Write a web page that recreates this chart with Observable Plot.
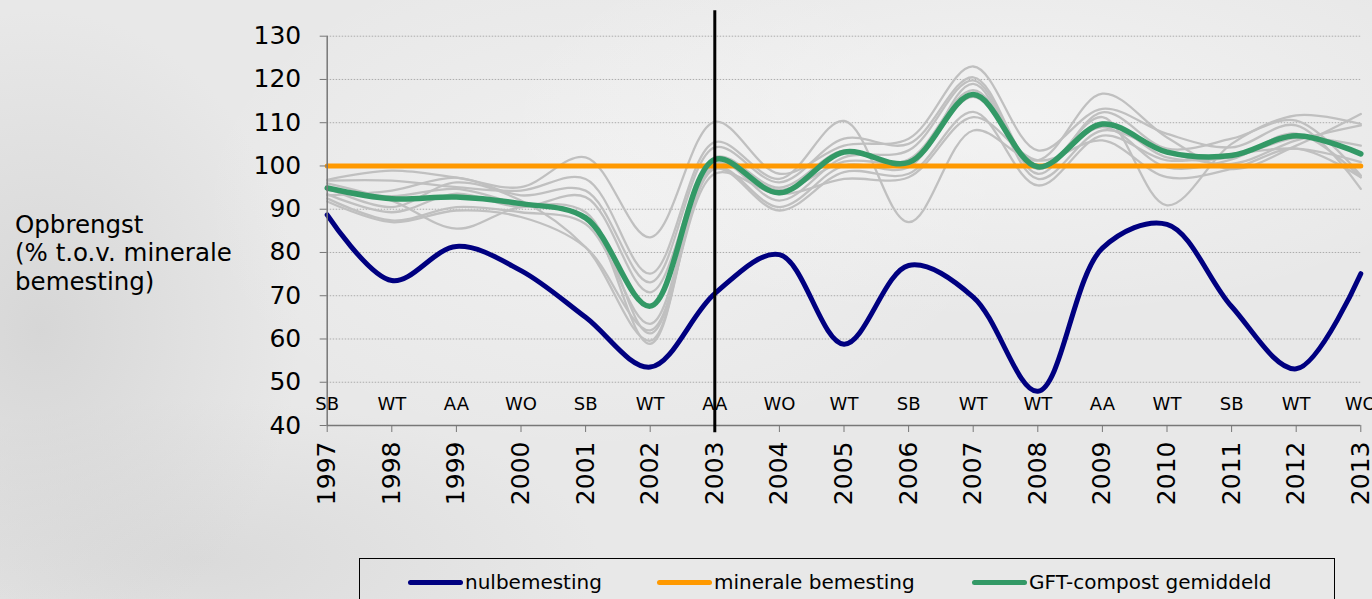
<!DOCTYPE html>
<html>
<head>
<meta charset="utf-8">
<script src="https://cdn.jsdelivr.net/npm/d3@7"></script>
<script src="https://cdn.jsdelivr.net/npm/@observablehq/plot@0.6"></script>
<style>
html, body { margin: 0; padding: 0; }
body {
  width: 1372px; height: 599px; overflow: hidden; position: relative;
  font-family: "DejaVu Sans", Verdana, sans-serif; color: #000;
  background:
    radial-gradient(ellipse 260px 320px at 40px 330px, rgba(200,200,200,0.55), rgba(200,200,200,0) 100%),
    radial-gradient(ellipse 400px 160px at 200px 560px, rgba(205,205,205,0.5), rgba(205,205,205,0) 100%),
    radial-gradient(ellipse 500px 200px at 1000px 120px, rgba(250,250,250,0.6), rgba(250,250,250,0) 100%),
    radial-gradient(ellipse 400px 250px at 600px 200px, rgba(246,246,246,0.6), rgba(246,246,246,0) 100%),
    #e8e8e8;
}
#chart { position: absolute; left: 0; top: 0; }
#ytitle { position: absolute; left: 15px; top: 211px; font-size: 24.5px; line-height: 28.3px; white-space: nowrap; }
#legend { position: absolute; left: 359px; top: 558px; width: 976px; height: 60px; border: 1px solid #000; box-sizing: border-box; }
.item { position: absolute; top: 10px; height: 26px; display: flex; align-items: center; font-size: 20px; white-space: nowrap; }
.sw { display: inline-block; width: 55px; height: 5px; border-radius: 3px; margin-right: 2px; }
</style>
</head>
<body>
<div id="chart"></div>
<div id="ytitle">Opbrengst<br>(% t.o.v. minerale<br>bemesting)</div>
<div id="legend"></div>
<script>
// ---- data ----
const years = [1997, 1998, 1999, 2000, 2001, 2002, 2003, 2004, 2005, 2006, 2007, 2008, 2009, 2010, 2011, 2012, 2013];
const crops = ["SB", "WT", "AA", "WO", "SB", "WT", "AA", "WO", "WT", "SB", "WT", "WT", "AA", "WT", "SB", "WT", "WO"];
const yTicks = [40, 50, 60, 70, 80, 90, 100, 110, 120, 130];

const nulbemesting = [88.7, 73.5, 81.4, 75.8, 65.0, 53.5, 70.5, 79.5, 58.8, 77.0, 69.7, 47.9, 81.0, 86.5, 67.5, 53.1, 75.1];
const mineraleBemesting = [100, 100, 100, 100, 100, 100, 100, 100, 100, 100, 100, 100, 100, 100, 100, 100, 100];
const gftGemiddeld = [94.9, 92.4, 92.8, 91.3, 88.0, 67.6, 101.5, 93.8, 103.2, 100.8, 116.5, 99.8, 109.7, 103.2, 102.4, 107.0, 102.8];

// individual GFT-compost plots (grey)
const gft1 = [96.8, 98.9, 97.3, 95.1, 102.0, 83.5, 110.2, 98.2, 104.7, 106.3, 123.0, 103.6, 113.2, 107.4, 104.3, 109.4, 94.7];
const gft2 = [96.6, 96.6, 95.1, 94.3, 97.0, 75.1, 105.5, 97.0, 110.4, 87.0, 108.2, 101.3, 116.7, 106.6, 99.3, 104.7, 112.0];
const gft3 = [93.2, 94.3, 97.3, 93.2, 94.3, 73.1, 104.3, 96.2, 106.3, 105.1, 120.5, 99.3, 111.3, 90.9, 105.1, 111.7, 109.7];
const gft4 = [93.5, 89.3, 93.6, 90.5, 92.8, 70.8, 101.3, 92.0, 102.0, 103.6, 119.8, 98.2, 112.4, 104.0, 106.3, 110.5, 97.8];
const gft5 = [92.5, 87.4, 90.5, 89.3, 86.6, 63.5, 99.7, 90.5, 100.1, 99.7, 119.0, 97.0, 108.2, 103.2, 100.5, 105.9, 109.4];
const gft6 = [91.8, 87.0, 89.7, 88.2, 81.2, 62.0, 99.3, 89.7, 98.6, 98.2, 112.5, 95.5, 107.0, 101.3, 102.8, 104.0, 100.9];
const gft7 = [96.0, 92.0, 85.5, 90.5, 89.3, 61.3, 98.2, 93.5, 97.0, 97.4, 111.3, 101.3, 105.9, 97.4, 99.3, 104.0, 97.4];
const gft8 = [95.0, 90.5, 96.2, 92.0, 81.2, 59.6, 102.0, 95.0, 103.6, 100.5, 116.0, 99.7, 109.0, 99.7, 101.5, 107.5, 97.4];
const gft9 = [94.5, 93.0, 94.7, 91.0, 88.0, 58.9, 100.5, 94.5, 101.0, 101.5, 117.5, 100.2, 110.0, 102.0, 102.0, 106.5, 104.7];
const greySeries = [gft1, gft2, gft3, gft4, gft5, gft6, gft7, gft8, gft9];

const seriesNames = ["nulbemesting", "minerale bemesting", "GFT-compost gemiddeld"];
const seriesColors = ["#000080", "#ff9900", "#339966"];

// ---- build tables ----
const toRows = (vals) => years.map((yr, i) => ({year: yr, value: vals[i]}));
const greyRows = greySeries.flatMap((s, k) => years.map((yr, i) => ({series: k, year: yr, value: s[i]})));
const cropRows = years.map((yr, i) => ({year: yr, crop: crops[i]}));

const lineOpts = {x: "year", y: "value", curve: "catmull-rom", strokeLinecap: "round", strokeLinejoin: "round"};

const chart = Plot.plot({
  width: 1372,
  height: 545,
  marginLeft: 326.7,
  marginRight: 11.7,
  marginTop: 35.7,
  marginBottom: 120,
  style: {background: "transparent", fontFamily: "'DejaVu Sans', Verdana, sans-serif", fontSize: "25px", color: "#000", overflow: "visible"},
  x: {domain: [1997, 2013]},
  y: {domain: [40, 130]},
  marks: [
    Plot.ruleY(yTicks.filter(v => v > 40), {stroke: "#ababab", strokeWidth: 1, strokeDasharray: "1.5,1.5"}),
    Plot.lineY(greyRows, {...lineOpts, z: "series", stroke: "#c0c0c0", strokeWidth: 2.3}),
    Plot.lineY(toRows(mineraleBemesting), {...lineOpts, stroke: seriesColors[1], strokeWidth: 5}),
    Plot.lineY(toRows(nulbemesting), {...lineOpts, stroke: seriesColors[0], strokeWidth: 5}),
    Plot.lineY(toRows(gftGemiddeld), {...lineOpts, stroke: seriesColors[2], strokeWidth: 5.5}),
    Plot.text(cropRows, {x: "year", y: 45, text: "crop", fontSize: 18, fill: "#000", lineAnchor: "middle"}),
    Plot.ruleX([1997], {stroke: "#777", strokeWidth: 1.5}),
    Plot.ruleY([40], {stroke: "#777", strokeWidth: 1.5}),
    Plot.axisY({ticks: yTicks, tickSize: 7, tickPadding: 19, stroke: "#777", fill: "#000", fontSize: 25, label: null}),
    Plot.axisX({ticks: years, tickFormat: d => String(d), tickRotate: -90, tickSize: 7, tickPadding: 9, stroke: "#777", fill: "#000", fontSize: 25, label: null}),
    Plot.ruleX([2003], {y1: 38.3, y2: 135.9, stroke: "#000", strokeWidth: 3, clip: false})
  ]
});
document.getElementById("chart").appendChild(chart);

// ---- legend ----
const legend = document.getElementById("legend");
const itemLeft = [48, 297, 612];
seriesNames.forEach((name, i) => {
  const it = document.createElement("div");
  it.className = "item";
  it.style.left = itemLeft[i] + "px";
  const sw = document.createElement("span");
  sw.className = "sw";
  sw.style.background = seriesColors[i];
  const tx = document.createElement("span");
  tx.textContent = name;
  it.appendChild(sw);
  it.appendChild(tx);
  legend.appendChild(it);
});
</script>
</body>
</html>
